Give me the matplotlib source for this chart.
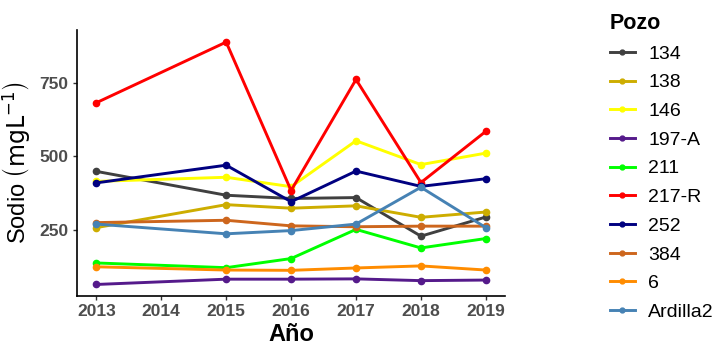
import matplotlib
matplotlib.use("Agg")
import matplotlib.pyplot as plt
from matplotlib.lines import Line2D

plt.rcParams['font.family'] = ['Liberation Sans', 'DejaVu Sans']

years = [2013, 2015, 2016, 2017, 2018, 2019]
pozos = ["134", "138", "146", "197-A", "211", "217-R", "252", "384", "6", "Ardilla2"]
colors = ["#404040", "#CDAD00", "#FFFF00", "#551A8B", "#00FF00", "#FF0000",
          "#000080", "#CD661D", "#FF8C00", "#4682B4"]

v134 = [449, 368, 357, 360, 229, 294]
v138 = [258, 336, 324, 332, 293, 311]
v146 = [415, 429, 397, 553, 472, 511]
v197A = [65, 83, 83, 84, 78, 80]
v211 = [138, 122, 153, 252, 189, 221]
v217R = [682, 888, 384, 761, 411, 585]
v252 = [410, 470, 346, 450, 398, 424]
v384 = [275, 283, 264, 261, 263, 263]
v6 = [125, 114, 113, 121, 128, 114]
vArdilla2 = [270, 237, 248, 270, 395, 258]

series = [v134, v138, v146, v197A, v211, v217R, v252, v384, v6, vArdilla2]

fig = plt.figure(figsize=(7.25, 3.49), dpi=100)
ax = fig.add_axes([0.106, 0.152, 0.591, 0.762])

for name, col, vals in zip(pozos, colors, series):
    ax.plot(years, vals, color=col, lw=2.1, marker='o', ms=4.5, label=name)

ax.set_xlim(2012.7, 2019.3)
ax.set_ylim(26, 929)
ax.set_xticks([2013, 2014, 2015, 2016, 2017, 2018, 2019])
ax.set_yticks([250, 500, 750])
for s in ['top', 'right']:
    ax.spines[s].set_visible(False)
for s in ['left', 'bottom']:
    ax.spines[s].set_linewidth(1.2)
    ax.spines[s].set_color('black')
ax.tick_params(axis='both', length=3, width=1, color='#333333', labelcolor='#4d4d4d', labelsize=12.5, pad=3)
for lab in ax.get_xticklabels() + ax.get_yticklabels():
    lab.set_fontweight('bold')

ax.set_xlabel("Año", fontsize=17, fontweight='bold', labelpad=3)
ax.set_ylabel(r"Sodio $\left(\mathrm{mgL}^{-1}\right)$", fontsize=17, labelpad=5)

handles = [Line2D([0], [0], color=c, lw=2.1, marker='o', ms=3.5) for c in colors]
leg = fig.legend(handles, pozos, loc='upper left', bbox_to_anchor=(0.83, 0.985),
                 frameon=False, title="Pozo", fontsize=14, handlelength=1.3,
                 handletextpad=0.7, labelspacing=0.57, borderaxespad=0)
leg.get_title().set_fontweight('bold')
leg.get_title().set_fontsize(15.5)
leg._legend_box.align = "left"

fig.savefig("out.png", dpi=100)
